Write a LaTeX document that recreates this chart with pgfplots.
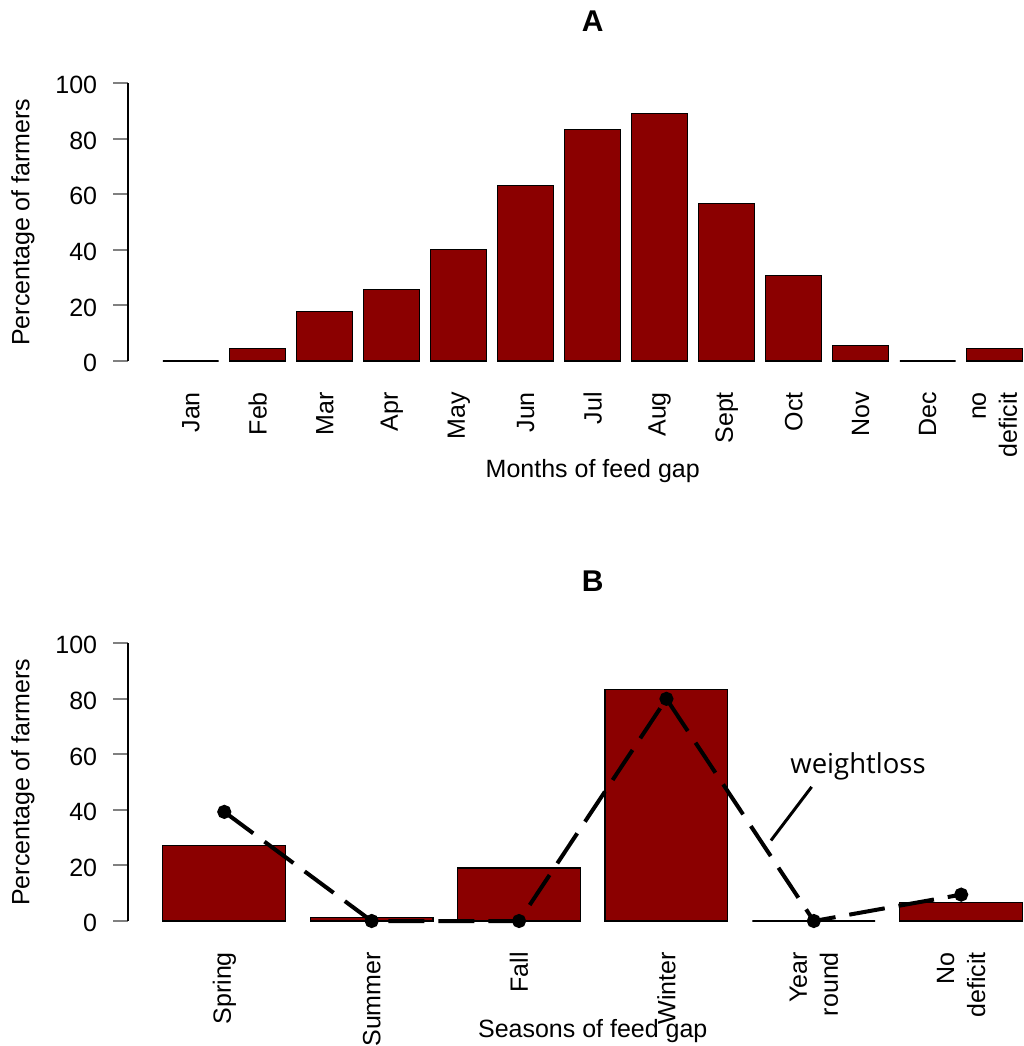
\documentclass[border=0pt]{standalone}
\usepackage{fontspec}
\setmainfont{Liberation Sans}
\newfontfamily\osans{Open Sans}
\usepackage{pgfplots}
\pgfplotsset{compat=1.18}
\definecolor{barred}{HTML}{8B0000}

\begin{document}
\begin{tikzpicture}
\pgfplotsset{
  rplot/.style={
    scale only axis, width=464.25pt, height=138.85pt,
    anchor=south west,
    ymin=0, ymax=100, ytick={0,20,...,100},
    axis y line*=left, axis x line*=bottom,
    x axis line style={draw=none},
    y axis line style={-, line width=1pt},
    ytick style={line width=1pt},
    tick align=outside,
    major tick length=7.5pt,
    xtick style={draw=none},
    clip=false,
    font=\fontsize{12.5}{15.5}\selectfont,
    ticklabel style={font=\fontsize{12.5}{15.5}\selectfont},
    /pgf/number format/assume math mode=true,
    yticklabel style={inner sep=0pt, yshift=-1pt},
    yticklabel shift=8pt,
    xticklabel style={rotate=90, anchor=east, align=right, inner sep=0pt},
    xticklabel shift=7.85pt,
    title style={at={(axis description cs:0.5,1.18113)}, anchor=center, font=\bfseries\fontsize{15}{18}\selectfont},
    xlabel style={at={(axis description cs:0.5,-0.39791)}, anchor=center},
    ylabel style={at={(axis description cs:-0.11362,0.5)}, anchor=center},
    ylabel={Percentage of farmers},
  }
}
\begin{axis}[rplot, at={(64.25pt,-180.5pt)},
  xmin=-0.416, xmax=16.216,
  xtick={0.7,1.9,3.1,4.3,5.5,6.7,7.9,9.1,10.3,11.5,12.7,13.9,15.1},
  xticklabels={Jan,Feb,Mar,Apr,May,Jun,Jul,Aug,Sept,Oct,Nov,Dec,{no\\deficit}},
  title={A}, xlabel={Months of feed gap}]
\addplot[ybar, bar width=1, fill=barred, draw=black, line width=0.6pt] coordinates {
 (0.7,0) (1.9,4.6) (3.1,17.7) (4.3,25.8) (5.5,40.2) (6.7,63.1) (7.9,83.3)
 (9.1,89.1) (10.3,56.8) (11.5,30.9) (12.7,5.6) (13.9,0) (15.1,4.4)};
\end{axis}
\begin{axis}[rplot, at={(64.25pt,-460.5pt)},
  xmin=-0.08, xmax=7.48,
  xtick={0.7,1.9,3.1,4.3,5.5,6.7},
  xticklabels={Spring,Summer,Fall,Winter,{Year\\round},{No\\deficit}},
  title={B}, xlabel={Seasons of feed gap}]
\addplot[ybar, bar width=1, fill=barred, draw=black, line width=0.6pt] coordinates {
 (0.7,27.1) (1.9,1.2) (3.1,19.1) (4.3,83.5) (5.5,0) (6.7,6.8)};
\addplot[black, line width=2pt, dash pattern=on 18pt off 7pt, mark=*, mark size=2.5pt, mark options={solid}] coordinates {
 (0.7,39.3) (1.9,0) (3.1,0) (4.3,80) (5.5,0) (6.7,9.5)};
\node[anchor=base west, font=\osans\fontsize{13.75}{16}\selectfont, inner sep=0pt] at (axis cs:5.306,53.2) {weightloss};
\draw[line width=1.5pt] (axis cs:5.482,48.3) -- (axis cs:5.151,29.0);
\end{axis}
\pgfresetboundingbox
\path[use as bounding box] (0pt,0pt) rectangle (512pt,-523pt);
\end{tikzpicture}
\end{document}
